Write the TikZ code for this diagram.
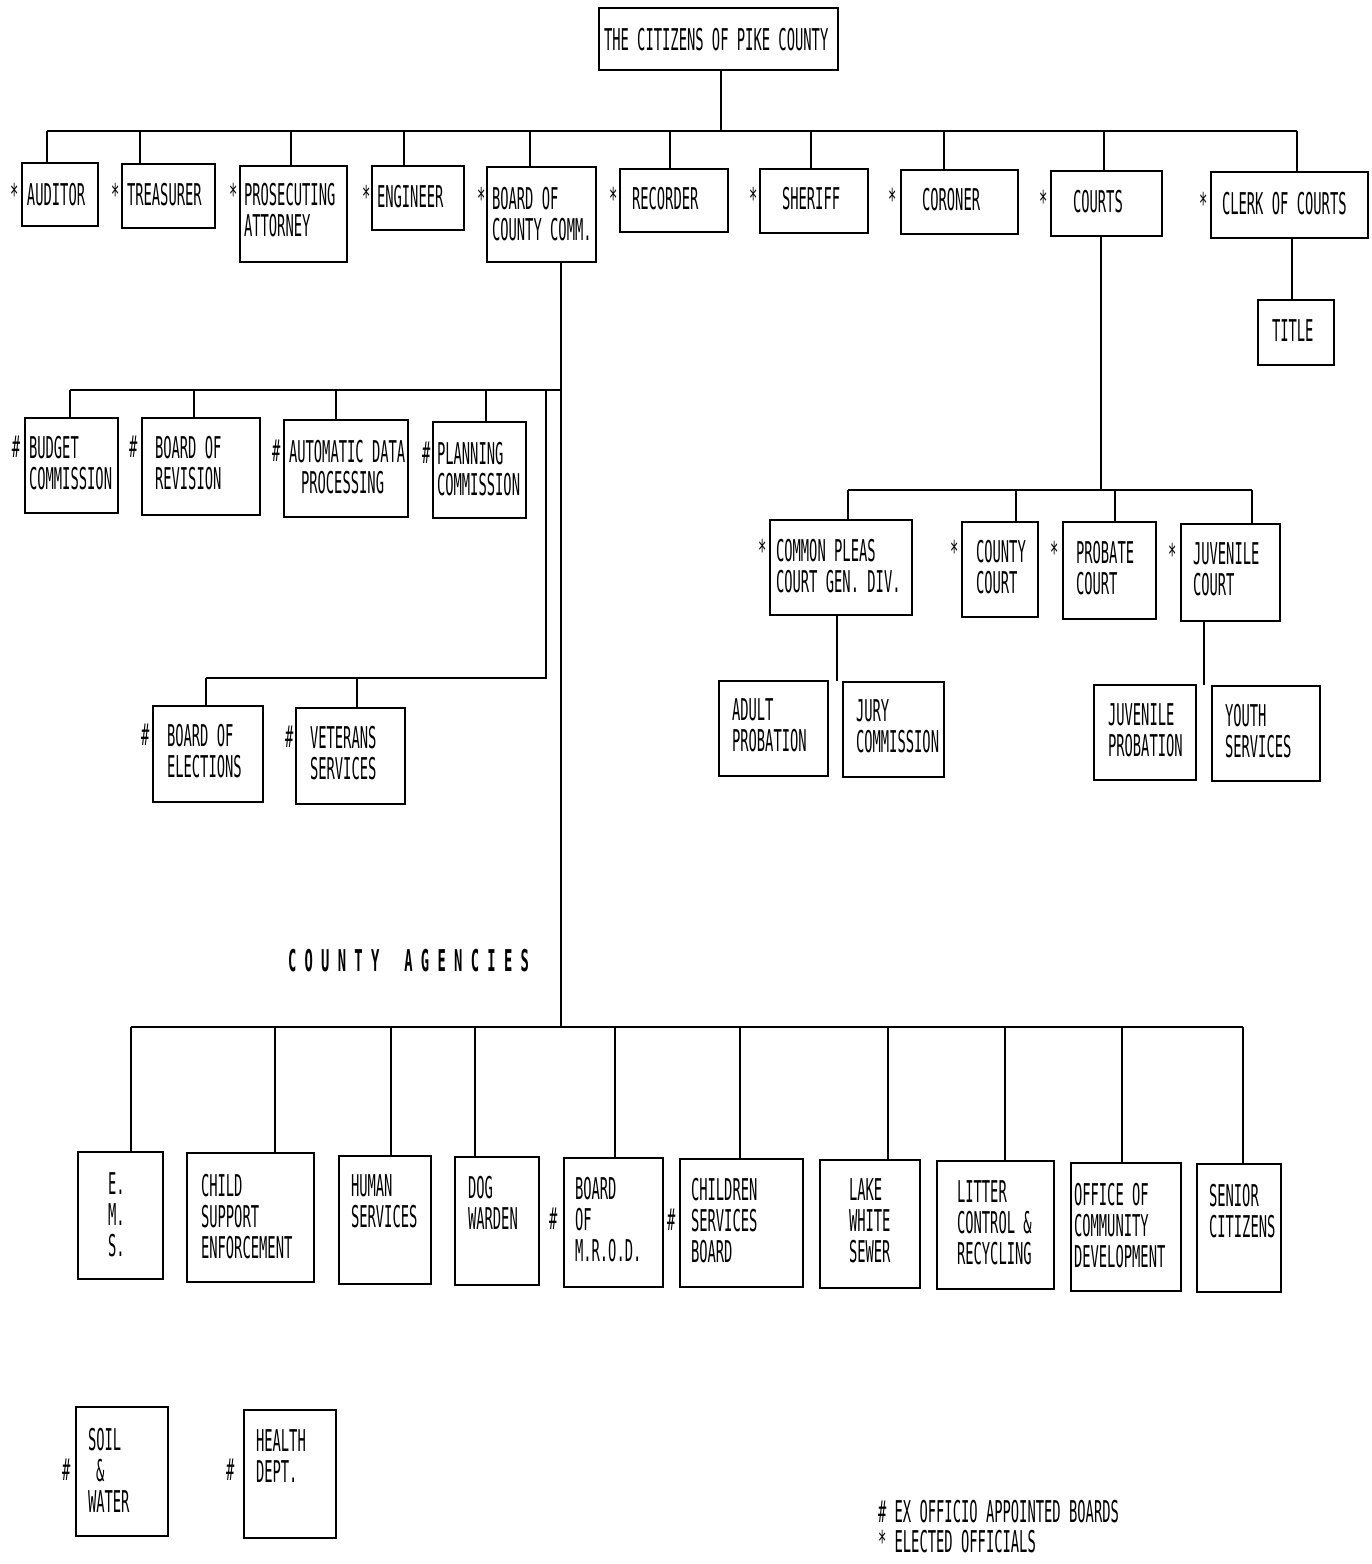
\documentclass[tikz,border=0pt]{standalone}
\usepackage{fontspec}
\newfontfamily\dm[FakeStretch=0.46]{DejaVu Sans Mono}
\begin{document}
\begin{tikzpicture}[x=1pt,y=-1pt,
  box/.style={draw,line width=1.7pt,inner sep=0pt,outer sep=0pt},
  txt/.style={inner sep=0pt,outer sep=0pt,align=left,font={\dm\fontsize{30}{31}\selectfont}},
  ln/.style={line width=1.5pt}]
\useasboundingbox[fill=white] (0,0) rectangle (1372,1564);
\newcommand\bx[5]{\node[box,anchor=north west,minimum width={#4-#2},minimum height={#5-#3}] (#1) at (#2,#3) {};}
\newcommand\tx[4]{\node[txt,anchor=north west] (#1) at (#2,{#3-22}) {#4};}
% ---------- top ----------
\bx{cit}{599}{8}{838}{70}
\tx{tcit}{604}{50}{THE CITIZENS OF PIKE COUNTY}
% top row
\bx{aud}{22}{163}{98}{226}
\bx{tre}{122}{164}{215}{228}
\bx{pro}{240}{166}{347}{262}
\bx{eng}{372}{166}{464}{230}
\bx{bcc}{487}{167}{596}{262}
\bx{rec}{620}{169}{728}{232}
\bx{she}{760}{169}{868}{233}
\bx{cor}{901}{170}{1018}{234}
\bx{crt}{1051}{171}{1162}{236}
\bx{clk}{1211}{172}{1368}{238}
\bx{tit}{1258}{300}{1334}{365}
\tx{taud}{27}{205}{AUDITOR}
\tx{ttre}{127}{205}{TREASURER}
\tx{tpro}{244}{205}{PROSECUTING\\ATTORNEY}
\tx{teng}{377}{207}{ENGINEER}
\tx{tbcc}{492}{209}{BOARD OF\\COUNTY COMM.}
\tx{trec}{632}{209}{RECORDER}
\tx{tshe}{782}{209}{SHERIFF}
\tx{tcor}{922}{210}{CORONER}
\tx{tcrt}{1073}{212}{COURTS}
\tx{tclk}{1222}{214}{CLERK OF COURTS}
\tx{ttit}{1272}{342}{TITLE}
\tx{s1}{10}{205}{*}
\tx{s2}{111}{205}{*}
\tx{s3}{229}{205}{*}
\tx{s4}{362}{207}{*}
\tx{s5}{477}{209}{*}
\tx{s6}{609}{209}{*}
\tx{s7}{749}{209}{*}
\tx{s8}{888}{210}{*}
\tx{s9}{1039}{212}{*}
\tx{s10}{1199}{214}{*}
% top connectors
\coordinate (b1L) at (47,131);
\coordinate (b1R) at (1297,131);
\coordinate (b1C) at (721,131);
\draw[ln] (b1L) -- (b1R);
\draw[ln] (cit.south -| b1C) -- (b1C);
\foreach \n/\xx in {aud/47,tre/140,pro/291,eng/404,bcc/530,rec/670,she/811,cor/944,crt/1104,clk/1297}{
  \coordinate (j\n) at (\xx,131);
  \draw[ln] (j\n) -- (j\n |- \n.north);
}
\coordinate (jclk2) at (1292,238);
\draw[ln] (jclk2) -- (jclk2 |- tit.north);
% ---------- board of county comm. branch ----------
\coordinate (bccD) at (561,262);
\coordinate (b2R) at (561,390);
\coordinate (b2L) at (70,390);
\coordinate (b5C) at (561,1027);
\draw[ln] (bccD) -- (b5C);
\draw[ln] (b2L) -- (b2R);
\bx{bud}{25}{418}{118}{513}
\bx{rev}{142}{418}{260}{515}
\bx{adp}{284}{420}{408}{517}
\bx{pla}{433}{422}{526}{518}
\tx{tbud}{29}{458}{BUDGET\\COMMISSION}
\tx{trev}{155}{458}{BOARD OF\\REVISION}
\tx{tadp}{289}{462}{AUTOMATIC DATA\\\hspace*{12pt}PROCESSING}
\tx{tpla}{437}{464}{PLANNING\\COMMISSION}
\tx{h1}{12}{458}{\#}
\tx{h2}{129}{458}{\#}
\tx{h3}{272}{462}{\#}
\tx{h4}{422}{464}{\#}
\foreach \n/\xx in {bud/70,rev/194,adp/336,pla/486}{
  \coordinate (k\n) at (\xx,390);
  \draw[ln] (k\n) -- (k\n |- \n.north);
}
\coordinate (v3T) at (546,390);
\coordinate (v3B) at (546,678);
\coordinate (b3L) at (206,678);
\draw[ln] (v3T) -- (v3B) -- (b3L);
\bx{ele}{153}{706}{263}{802}
\bx{vet}{296}{708}{405}{804}
\tx{tele}{167}{746}{BOARD OF\\ELECTIONS}
\tx{tvet}{310}{748}{VETERANS\\SERVICES}
\tx{h5}{141}{746}{\#}
\tx{h6}{285}{748}{\#}
\foreach \n/\xx in {ele/206,vet/357}{
  \coordinate (m\n) at (\xx,678);
  \draw[ln] (m\n) -- (m\n |- \n.north);
}
% ---------- courts branch ----------
\coordinate (b4L) at (848,490);
\coordinate (b4R) at (1252,490);
\coordinate (b4C) at (1101,490);
\draw[ln] (crt.south -| b4C) -- (b4C);
\draw[ln] (b4L) -- (b4R);
\bx{cpl}{770}{520}{912}{615}
\bx{cco}{962}{522}{1038}{617}
\bx{prb}{1063}{522}{1156}{619}
\bx{juv}{1181}{524}{1280}{621}
\tx{tcpl}{776}{561}{COMMON PLEAS\\COURT GEN. DIV.}
\tx{tcco}{976}{562}{COUNTY\\COURT}
\tx{tprb}{1076}{563}{PROBATE\\COURT}
\tx{tjuv}{1193}{565}{JUVENILE\\COURT}
\tx{s11}{758}{561}{*}
\tx{s12}{950}{562}{*}
\tx{s13}{1050}{563}{*}
\tx{s14}{1168}{565}{*}
\foreach \n/\xx in {cpl/848,cco/1016,prb/1115,juv/1252}{
  \coordinate (c\n) at (\xx,490);
  \draw[ln] (c\n) -- (c\n |- \n.north);
}
\bx{adu}{719}{681}{828}{776}
\bx{jur}{843}{682}{944}{777}
\bx{jpr}{1094}{685}{1196}{780}
\bx{you}{1212}{686}{1320}{781}
\tx{tadu}{732}{721}{ADULT\\PROBATION}
\tx{tjur}{856}{722}{JURY\\COMMISSION}
\tx{tjpr}{1108}{726}{JUVENILE\\PROBATION}
\tx{tyou}{1225}{726}{YOUTH\\SERVICES}
\coordinate (cplD) at (837,615);
\coordinate (juvD) at (1204,621);
\draw[ln] (cplD) -- (cplD |- adu.north);
\draw[ln] (juvD) -- (juvD |- jpr.north);
% ---------- county agencies ----------
\node[txt,anchor=north west,font={\dm\bfseries\fontsize{30}{31}\selectfont}] (cag) at (288,949) {C O U N T Y\ \ \ A G E N C I E S};
\coordinate (b5L) at (131,1027);
\coordinate (b5R) at (1243,1027);
\draw[ln] (b5L) -- (b5R);
\bx{ems}{78}{1152}{163}{1279}
\bx{csu}{187}{1153}{314}{1282}
\bx{hum}{339}{1156}{431}{1284}
\bx{dog}{455}{1157}{539}{1285}
\bx{mrd}{564}{1158}{663}{1287}
\bx{chs}{680}{1159}{803}{1287}
\bx{lak}{820}{1160}{920}{1288}
\bx{lit}{937}{1161}{1054}{1289}
\bx{ocd}{1071}{1163}{1181}{1291}
\bx{sen}{1197}{1164}{1281}{1292}
\tx{tems}{108}{1195}{E.\\M.\\S.}
\tx{tcsu}{201}{1196}{CHILD\\SUPPORT\\ENFORCEMENT}
\tx{thum}{351}{1197}{HUMAN\\SERVICES}
\tx{tdog}{468}{1198}{DOG\\WARDEN}
\tx{tmrd}{575}{1199}{BOARD\\OF\\M.R.O.D.}
\tx{tchs}{691}{1200}{CHILDREN\\SERVICES\\BOARD}
\tx{tlak}{849}{1201}{LAKE\\WHITE\\SEWER}
\tx{tlit}{957}{1203}{LITTER\\CONTROL \&\\RECYCLING}
\tx{tocd}{1074}{1205}{OFFICE OF\\COMMUNITY\\DEVELOPMENT}
\tx{tsen}{1209}{1206}{SENIOR\\CITIZENS}
\tx{h7}{549}{1230}{\#}
\tx{h8}{667}{1231}{\#}
\foreach \n/\xx in {ems/131,csu/275,hum/391,dog/475,mrd/615,chs/740,lak/888,lit/1005,ocd/1122,sen/1243}{
  \coordinate (a\n) at (\xx,1027);
  \draw[ln] (a\n) -- (a\n |- \n.north);
}
% ---------- stand-alone ----------
\bx{soi}{76}{1407}{168}{1536}
\bx{hea}{244}{1410}{336}{1538}
\tx{tsoi}{88}{1450}{SOIL\\\hspace*{8pt}\&\\WATER}
\tx{thea}{256}{1452}{HEALTH\\DEPT.}
\tx{h9}{62}{1481}{\#}
\tx{h10}{226}{1481}{\#}
% ---------- legend ----------
\tx{leg1}{878}{1522}{\# EX OFFICIO APPOINTED BOARDS}
\tx{leg2}{878}{1552}{* ELECTED OFFICIALS}
\end{tikzpicture}
\end{document}
